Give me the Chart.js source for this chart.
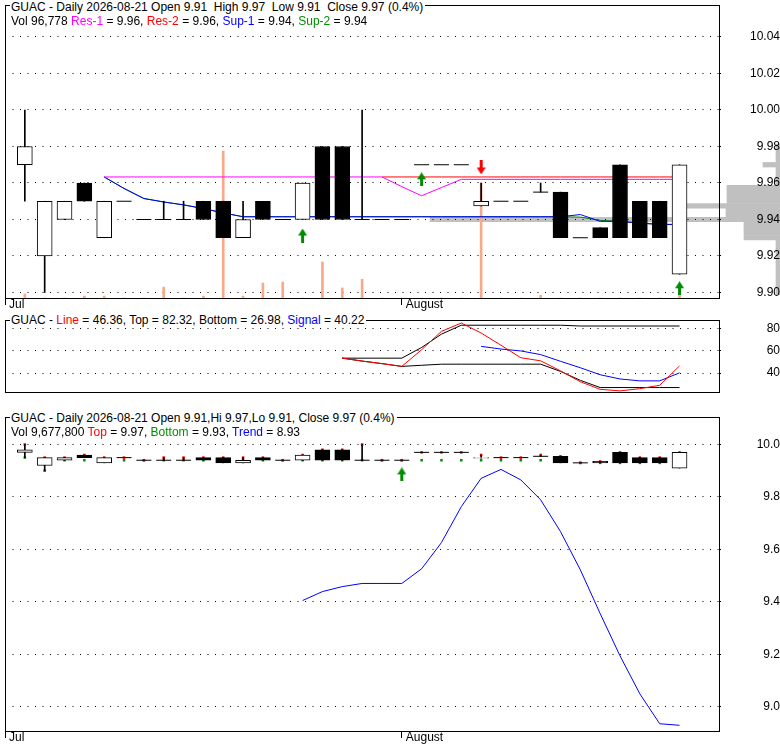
<!DOCTYPE html>
<html><head><meta charset="utf-8">
<script src="https://cdn.jsdelivr.net/npm/chart.js@4.4.1/dist/chart.umd.min.js"></script>
<style>
html,body{margin:0;padding:0;background:#fff;}
#wrap{position:relative;width:780px;height:745px;overflow:hidden;font-family:"Liberation Sans",Arial,sans-serif;font-size:12px;}
canvas{position:absolute;left:0;}
.t{position:absolute;white-space:pre;line-height:14px;font-size:12px;color:#000;z-index:5;}
.bg{background:#fff;padding:0 2px 0 1px;}
</style></head>
<body><div id="wrap">
<canvas id="cHist" width="780" height="312" style="top:0"></canvas>
<canvas id="cTop" width="780" height="312" style="top:0"></canvas>
<canvas id="cMid" width="780" height="100" style="top:310px"></canvas>
<canvas id="cBot" width="780" height="335" style="top:410px"></canvas>
<div class="t bg" style="left:10px;top:0">GUAC - Daily 2026-08-21 Open 9.91  High 9.97  Low 9.91  Close 9.97 (0.4%)</div>
<div class="t" style="left:11px;top:14px">Vol 96,778 <span style="color:#ff00ff">Res-1</span> = 9.96, <span style="color:#ff0000">Res-2</span> = 9.96, <span style="color:#0000ff">Sup-1</span> = 9.94, <span style="color:#009000">Sup-2</span> = 9.94</div>
<div class="t bg" style="left:10px;top:313px">GUAC - <span style="color:#ff0000">Line</span> = 46.36, Top = 82.32, Bottom = 26.98, <span style="color:#0000ff">Signal</span> = 40.22</div>
<div class="t bg" style="left:10px;top:411px">GUAC - Daily 2026-08-21 Open 9.91,Hi 9.97,Lo 9.91, Close 9.97 (0.4%)</div>
<div class="t" style="left:11px;top:425px">Vol 9,677,800 <span style="color:#ff0000">Top</span> = 9.97, <span style="color:#009000">Bottom</span> = 9.93, <span style="color:#0000ff">Trend</span> = 8.93</div>
</div>
<script>
// ---------- DATA ----------
const monthTickPos = [-1, 19];
const monthTickLabels = ['Jul', 'August'];

const opens  = [9.97, 9.92, 9.94, 9.96, 9.93, 9.95, 9.94, 9.94, 9.94, 9.95, 9.95, 9.93, 9.95, 9.94, 9.94, 9.98, 9.98, 9.94, 9.94, 9.94, 9.97, 9.97, 9.97, 9.9475, 9.95, 9.95, 9.955, 9.955, 9.93, 9.9355, 9.97, 9.95, 9.95, 9.91];
const highs  = [10.00, 9.95, 9.95, 9.96, 9.95, 9.95, 9.94, 9.95, 9.95, 9.95, 9.95, 9.95, 9.95, 9.94, 9.96, 9.98, 9.98, 10.00, 9.94, 9.94, 9.97, 9.97, 9.97, 9.96, 9.95, 9.95, 9.96, 9.955, 9.93, 9.9355, 9.97, 9.95, 9.95, 9.97];
const lows   = [9.95, 9.90, 9.94, 9.95, 9.93, 9.95, 9.94, 9.94, 9.94, 9.94, 9.93, 9.93, 9.94, 9.94, 9.94, 9.94, 9.94, 9.94, 9.94, 9.94, 9.97, 9.97, 9.97, 9.9475, 9.95, 9.95, 9.955, 9.93, 9.93, 9.93, 9.93, 9.93, 9.93, 9.91];
const closes = [9.98, 9.95, 9.95, 9.95, 9.95, 9.95, 9.94, 9.94, 9.94, 9.94, 9.93, 9.94, 9.94, 9.94, 9.96, 9.94, 9.94, 9.94, 9.94, 9.94, 9.97, 9.97, 9.97, 9.95, 9.95, 9.95, 9.955, 9.93, 9.93, 9.93, 9.93, 9.93, 9.93, 9.97];
const volumes = [130000, 0, 0, 60000, 60000, 0, 0, 350000, 0, 60000, 4700000, 60000, 480000, 510000, 0, 1150000, 320000, 600000, 0, 0, 0, 0, 0, 3680000, 0, 0, 90000, 0, 0, 0, 0, 0, 0, 96778];

const res1 = [null, null, null, null, 9.9633, 9.9633, 9.9633, 9.9633, 9.9633, 9.9633, 9.9633, 9.9633, 9.9633, 9.9633, 9.9633, 9.9633, 9.9633, 9.9633, 9.9633, 9.958, 9.953, 9.9575, 9.962, 9.962, 9.962, 9.962, 9.962, 9.962, 9.962, 9.962, 9.962, 9.962, 9.962, 9.962];
const res2 = [null, null, null, null, null, null, null, null, null, null, null, null, null, null, null, null, null, null, 9.9633, 9.9633, 9.9633, 9.9633, 9.9633, 9.9633, 9.9633, 9.9633, 9.9633, 9.9633, 9.9633, 9.9633, 9.9633, 9.9633, 9.9633, 9.9633];
const sup1 = [null, null, null, null, 9.9633, 9.957, 9.9515, 9.9496, 9.948, 9.946, 9.9436, 9.9415, 9.9415, 9.9415, 9.9415, 9.9415, 9.9415, 9.9415, 9.9415, 9.9415, 9.9415, 9.9415, 9.9415, 9.9415, 9.9415, 9.9415, 9.9415, 9.9415, 9.9427, 9.939, 9.939, 9.938, 9.9373, 9.9373];
const sup2 = [null, null, null, null, 9.9633, 9.957, 9.9515, 9.9496, 9.948, 9.946, 9.9436, 9.9415, 9.9415, 9.9415, 9.9415, 9.9415, 9.9415, 9.9415, 9.9415, 9.9415, 9.9415, 9.9415, 9.9415, 9.9415, 9.9415, 9.9415, 9.9415, 9.9415, 9.9413, 9.9395, 9.939, 9.938, 9.9373, 9.9373];

const topUpIdx = [14, 20, 33];
const topUpPrice = [9.9312, 9.962, 9.9023];
const topDownIdx = [23];
const topDownPrice = [9.9685];

const profilePrices = [9.9000, 9.9025, 9.9050, 9.9075, 9.9100, 9.9125, 9.9150, 9.9175, 9.9200, 9.9225, 9.9250, 9.9275, 9.9300, 9.9325, 9.9350, 9.9375, 9.9400, 9.9425, 9.9450, 9.9475, 9.9500, 9.9525, 9.9550, 9.9575, 9.9600, 9.9625, 9.9650, 9.9675, 9.9700, 9.9725, 9.9750, 9.9775, 9.9800];
const profileVol    = [4, 4, 4, 4, 4, 4, 4, 4, 4, 4, 4, 4, 36, 36, 36, 36, 350, 54, 54, 93, 53, 53, 53, 53, 4, 4, 4, 4, 17, 4, 4, 4, 4];

const oscLine   = [null, null, null, null, null, null, null, null, null, null, null, null, null, null, null, null, 53.5, 50.8, 48.5, 46.0, 61.0, 77.5, 85.0, 76.0, 65.0, 53.8, 51.0, 42.0, 32.2, 25.4, 24.0, 26.0, 29.0, 46.4];
const oscTop    = [null, null, null, null, null, null, null, null, null, null, null, null, null, null, null, null, 53.4, 53.4, 53.4, 53.4, 63.0, 75.0, 83.0, 83.0, 83.0, 83.0, 83.0, 83.0, 82.3, 82.3, 82.3, 82.3, 82.3, 82.3];
const oscBottom = [null, null, null, null, null, null, null, null, null, null, null, null, null, null, null, null, 53.4, 50.8, 48.5, 46.0, 47.0, 48.0, 48.0, 48.0, 48.0, 48.0, 48.0, 41.5, 33.5, 27.0, 27.0, 27.0, 27.0, 27.0];
const oscSignal = [null, null, null, null, null, null, null, null, null, null, null, null, null, null, null, null, null, null, null, null, null, null, null, 64.0, 61.6, 59.9, 56.6, 50.6, 44.8, 38.5, 34.7, 33.0, 33.0, 40.2];

const topMarks = [10.00, 9.95, 9.95, 9.96, 9.95, 9.95, 9.94, 9.95, 9.95, 9.95, 9.95, 9.95, 9.95, 9.94, 9.96, 9.98, 9.98, 10.00, 9.94, 9.94, 9.97, 9.97, 9.97, 9.96, 9.95, 9.95, 9.96, 9.955, 9.93, 9.9355, 9.97, 9.95, 9.95, 9.97];
const bottomMarks = [9.95, 9.90, 9.94, 9.94, 9.94, 9.94, 9.94, 9.94, 9.94, 9.94, 9.94, 9.94, 9.94, 9.94, 9.94, 9.94, 9.94, 9.94, 9.94, 9.94, 9.94, 9.94, 9.94, 9.94, 9.94, 9.94, 9.94, 9.94, 9.93, 9.93, 9.93, 9.93, 9.93, 9.93];
const trend = [null, null, null, null, null, null, null, null, null, null, null, null, null, null, 9.405, 9.439, 9.458, 9.470, 9.470, 9.470, 9.526, 9.626, 9.763, 9.871, 9.905, 9.865, 9.789, 9.668, 9.522, 9.355, 9.194, 9.049, 8.935, 8.929];
const botUpIdx = [19];
const botUpPrice = [9.886];

const topTicks = [9.90, 9.92, 9.94, 9.96, 9.98, 10.00, 10.02, 10.04];
const midTicks = [40, 60, 80];
const botTicks = [9.0, 9.2, 9.4, 9.6, 9.8, 10.0];

// ---------- HELPERS ----------
const FONT = '"Liberation Sans", Arial, sans-serif';
const idx = opens.map((_, i) => i);
const pts = arr => arr.map((v, i) => v == null ? null : {x: i, y: v}).filter(p => p);

function arrowImg(color, up) {
  const c = document.createElement('canvas'); c.width = 9; c.height = 14;
  const g = c.getContext('2d'); g.fillStyle = color; g.beginPath();
  if (up) { g.moveTo(4.5, 0); g.lineTo(9, 7); g.lineTo(0, 7); g.closePath(); g.fill(); g.fillRect(3, 7, 3, 7); }
  else { g.moveTo(4.5, 14); g.lineTo(9, 7); g.lineTo(0, 7); g.closePath(); g.fill(); g.fillRect(3, 0, 3, 7); }
  return c;
}
const upGreen = arrowImg('#008c00', true);
const downRed = arrowImg('#ff0000', false);

const frame = {
  id: 'frame',
  afterDatasetsDraw(chart) {
    const {ctx, chartArea: a} = chart;
    ctx.save(); ctx.strokeStyle = '#000'; ctx.lineWidth = 1; ctx.setLineDash([]);
    ctx.strokeRect(Math.round(a.left) + 0.5, Math.round(a.top) + 0.5, Math.round(a.right - a.left) - 1, Math.round(a.bottom - a.top));
    ctx.restore();
  }
};

function xScale(show) {
  return {
    type: 'linear', min: -1, max: 35.04, display: show, offset: false,
    afterBuildTicks: s => { s.ticks = monthTickPos.map(v => ({value: v})); },
    afterFit: s => { s.height = 14; s.paddingLeft = 0; s.paddingRight = 0; s.paddingTop = 0; s.paddingBottom = 0; },
    grid: {drawOnChartArea: false, drawTicks: true, tickLength: 7, color: '#000', lineWidth: 1, offset: false},
    border: {display: false},
    ticks: {autoSkip: false, maxRotation: 0, minRotation: 0, align: 'start', labelOffset: 4, padding: -8, color: '#000',
      font: {family: FONT, size: 12}, callback: v => monthTickLabels[monthTickPos.indexOf(v)]}
  };
}
function yScale(min, max, arr, fmt, pad) {
  return {
    type: 'linear', position: 'right', min, max,
    afterBuildTicks: s => { s.ticks = arr.map(v => ({value: v})); },
    afterFit: s => { s.width = 60; s.paddingTop = 0; s.paddingBottom = 0; s.paddingLeft = 0; s.paddingRight = 0; },
    grid: {color: '#000', lineWidth: 1, drawTicks: true, tickLength: 7, tickBorderDash: [1, 6.5], tickColor: '#000'},
    border: {display: false, dash: [1, 6.5]},
    ticks: {crossAlign: 'far', padding: pad, color: '#000', font: {family: FONT, size: 12}, callback: fmt}
  };
}
const baseOpts = {
  responsive: false, animation: false, devicePixelRatio: 1, events: [],
  plugins: {legend: {display: false}, tooltip: {enabled: false}}
};
function line(arr, color, order, yAxisID) {
  return {type: 'line', data: pts(arr), borderColor: color, borderWidth: 1, pointRadius: 0, pointHitRadius: 0, fill: false, tension: 0, order, yAxisID: yAxisID || 'y'};
}
function candleSets(orderBase) {
  const wickIdx = idx.filter(i => highs[i] > lows[i]);
  const bodyIdx = idx.filter(i => opens[i] !== closes[i]);
  const dojiIdx = idx.filter(i => opens[i] === closes[i]);
  return [
    {type: 'bar', data: wickIdx.map(i => ({x: i, y: [lows[i], highs[i]]})), backgroundColor: '#000', borderWidth: 0,
      grouped: false, maxBarThickness: 1, barPercentage: 1, categoryPercentage: 1, order: orderBase + 2},
    {type: 'bar', data: bodyIdx.map(i => ({x: i, y: [opens[i], closes[i]]})),
      backgroundColor: bodyIdx.map(i => closes[i] > opens[i] ? '#ffffff' : '#000000'),
      borderColor: '#000', borderWidth: 1, borderSkipped: false,
      grouped: false, maxBarThickness: 15, barPercentage: 1, categoryPercentage: 1, order: orderBase + 1},
    {type: 'scatter', data: dojiIdx.map(i => ({x: i, y: opens[i]})), pointStyle: 'line', pointRadius: 7.5,
      borderColor: '#000', borderWidth: 1, order: orderBase}
  ];
}

// ---------- PRICE PROFILE (behind top panel) ----------
new Chart(document.getElementById('cHist'), {
  type: 'bar',
  data: {datasets: [{data: profilePrices.map((p, i) => ({x: profileVol[i], y: p})), backgroundColor: '#c0c0c0',
    borderWidth: 0, barPercentage: 1, categoryPercentage: 1}]},
  options: Object.assign({}, baseOpts, {
    indexAxis: 'y',
    layout: {autoPadding: false, padding: {left: 0, right: 0, top: 5, bottom: 14}},
    scales: {
      x: {type: 'linear', reverse: true, min: 0, max: 780, display: false},
      y: {type: 'linear', min: 9.89698, max: 10.05753, display: false, offset: false}
    }
  })
});

// ---------- TOP PANEL ----------
new Chart(document.getElementById('cTop'), {
  type: 'line',
  data: {datasets: [
    {type: 'bar', yAxisID: 'yv', data: volumes.map((v, i) => ({x: i, y: v})), backgroundColor: '#f9a98b', borderWidth: 0,
      grouped: false, maxBarThickness: 2, barPercentage: 1, categoryPercentage: 1, order: 30},
    line(sup2, '#008000', 24),
    line(res2, '#ff0000', 23),
    line(sup1, '#0000ff', 22),
    line(res1, '#ff00ff', 21),
    ...candleSets(3),
    {type: 'scatter', data: topUpIdx.map((x, k) => ({x, y: topUpPrice[k]})), pointStyle: upGreen, pointRadius: 7, order: 1},
    {type: 'scatter', data: topDownIdx.map((x, k) => ({x, y: topDownPrice[k]})), pointStyle: downRed, pointRadius: 7, order: 1}
  ]},
  options: Object.assign({}, baseOpts, {
    layout: {autoPadding: false, padding: {left: 5, right: 0, top: 5, bottom: 0}},
    scales: {
      x: xScale(true),
      y: yScale(9.89698, 10.05753, topTicks, v => v.toFixed(2), 19),
      yv: {type: 'linear', display: false, min: 0, max: 9370000}
    }
  }),
  plugins: [frame]
});

// ---------- MIDDLE PANEL ----------
new Chart(document.getElementById('cMid'), {
  type: 'line',
  data: {datasets: [
    line(oscTop, '#000000', 5),
    line(oscBottom, '#000000', 4),
    line(oscSignal, '#0000ff', 3),
    line(oscLine, '#ff0000', 2)
  ]},
  options: Object.assign({}, baseOpts, {
    layout: {autoPadding: false, padding: {left: 5, right: 0, top: 10, bottom: 4}},
    scales: {
      x: xScale(false),
      y: yScale(23.0, 87.7, midTicks, v => String(v), 35.6)
    }
  }),
  plugins: [frame]
});

// ---------- BOTTOM PANEL ----------
new Chart(document.getElementById('cBot'), {
  type: 'line',
  data: {datasets: [
    line(trend, '#0000ff', 20),
    {type: 'scatter', data: pts(bottomMarks), pointStyle: 'rect', pointRadius: 1.8, backgroundColor: '#009000', borderWidth: 0, order: 12},
    {type: 'scatter', data: pts(topMarks), pointStyle: 'rect', pointRadius: 1.8, backgroundColor: '#ff0000', borderWidth: 0, order: 11},
    ...candleSets(3),
    {type: 'scatter', data: botUpIdx.map((x, k) => ({x, y: botUpPrice[k]})), pointStyle: upGreen, pointRadius: 7, order: 1}
  ]},
  options: Object.assign({}, baseOpts, {
    layout: {autoPadding: false, padding: {left: 5, right: 0, top: 7, bottom: 0}},
    scales: {
      x: xScale(true),
      y: yScale(8.9073, 10.1049, botTicks, v => v.toFixed(1), 25.6)
    }
  }),
  plugins: [frame]
});
</script>
</body></html>
